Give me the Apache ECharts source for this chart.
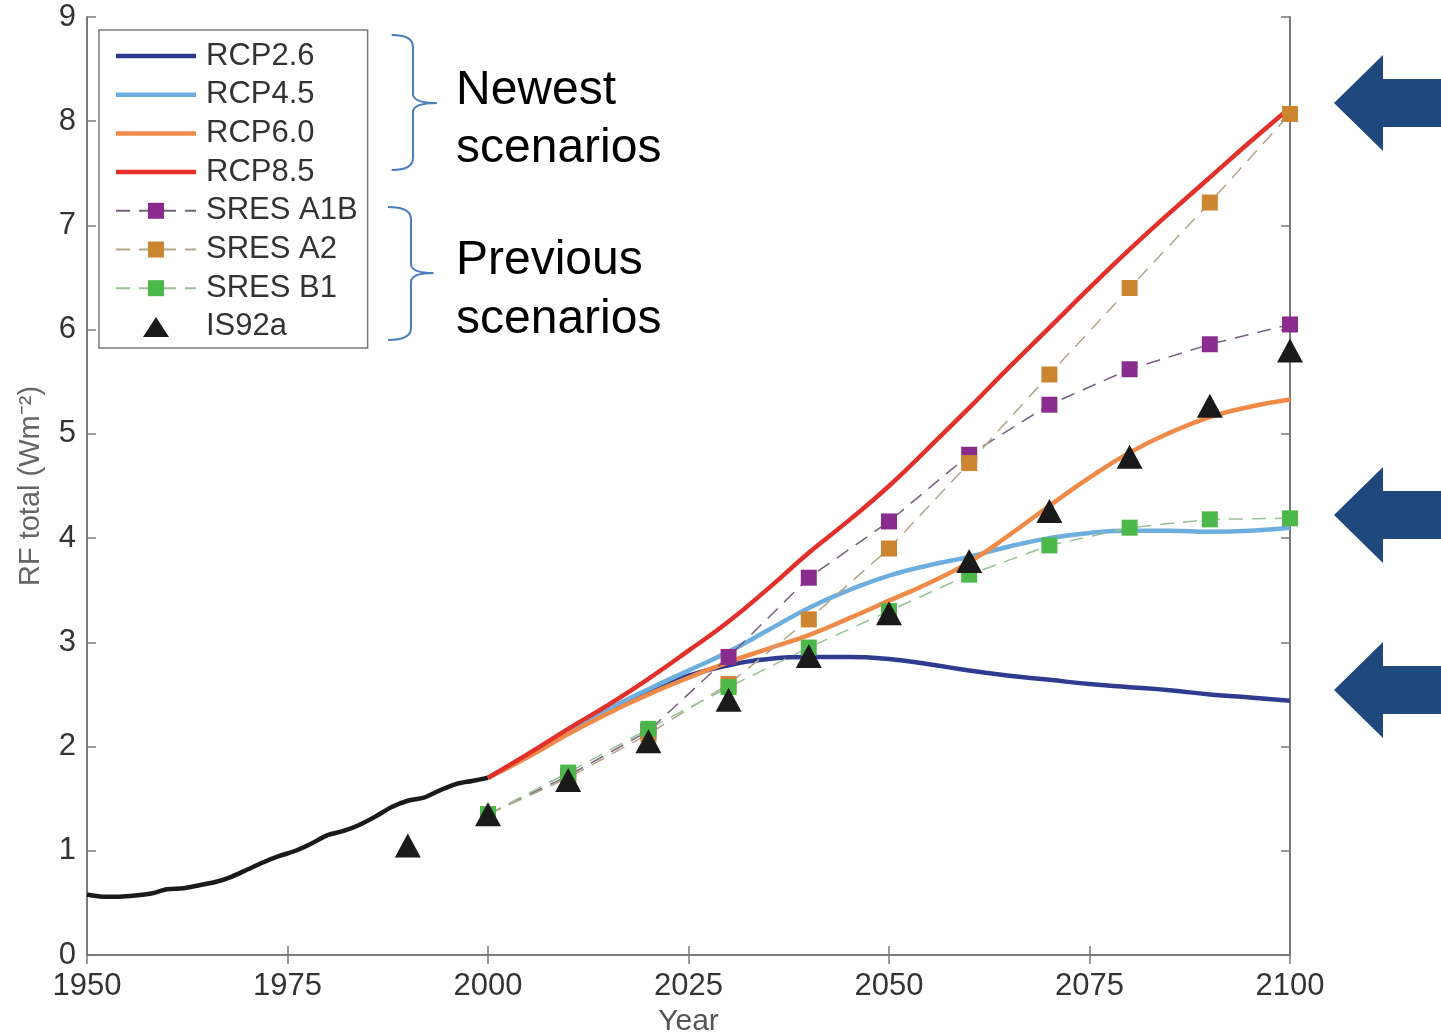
<!DOCTYPE html>
<html>
<head>
<meta charset="utf-8">
<title>RF total</title>
<script src="https://cdn.jsdelivr.net/npm/echarts@6/dist/echarts.min.js"></script>
<style>
html, body { margin: 0; padding: 0; background: #fff; }
#main { width: 1441px; height: 1033px; }
</style>
</head>
<body>
<div id="main"></div>
<script>
// observed forcing 1950-2000
var histYears = [1950, 1952, 1954, 1956, 1958, 1960, 1962, 1964, 1966, 1968, 1970, 1972, 1974,
    1976, 1978, 1980, 1982, 1984, 1986, 1988, 1990, 1992, 1994, 1996, 1998, 2000];
var histRF = [0.58, 0.56, 0.56, 0.57, 0.59, 0.63, 0.64, 0.67, 0.70, 0.75, 0.82, 0.89, 0.95,
    1.00, 1.07, 1.15, 1.19, 1.25, 1.33, 1.42, 1.48, 1.51, 1.58, 1.64, 1.67, 1.70];

// RCPs, 5-year steps
var rcpYears = [2000, 2005, 2010, 2015, 2020, 2025, 2030, 2035, 2040, 2045, 2050,
    2055, 2060, 2065, 2070, 2075, 2080, 2085, 2090, 2095, 2100];
var rcp26 = [1.70, 1.92, 2.14, 2.35, 2.53, 2.68, 2.78, 2.84, 2.86, 2.86, 2.84,
    2.79, 2.73, 2.68, 2.64, 2.60, 2.57, 2.54, 2.50, 2.47, 2.44];
var rcp45 = [1.70, 1.92, 2.15, 2.36, 2.55, 2.73, 2.91, 3.12, 3.33, 3.50, 3.64,
    3.74, 3.82, 3.92, 4.00, 4.05, 4.07, 4.07, 4.06, 4.07, 4.10];
var rcp60 = [1.70, 1.90, 2.12, 2.32, 2.50, 2.66, 2.81, 2.94, 3.07, 3.23, 3.40,
    3.57, 3.77, 4.03, 4.31, 4.58, 4.82, 5.01, 5.16, 5.26, 5.33];
var rcp85 = [1.70, 1.93, 2.17, 2.40, 2.65, 2.92, 3.20, 3.52, 3.86, 4.17, 4.50,
    4.87, 5.25, 5.64, 6.02, 6.40, 6.77, 7.12, 7.46, 7.80, 8.13];

// SRES, 10-year steps
var sresYears = [2000, 2010, 2020, 2030, 2040, 2050, 2060, 2070, 2080, 2090, 2100];
var sresA1B = [1.35, 1.72, 2.15, 2.86, 3.62, 4.16, 4.80, 5.28, 5.62, 5.86, 6.05];
var sresA2 = [1.35, 1.70, 2.12, 2.60, 3.22, 3.90, 4.72, 5.57, 6.40, 7.22, 8.07];
var sresB1 = [1.35, 1.75, 2.17, 2.57, 2.95, 3.30, 3.65, 3.93, 4.10, 4.18, 4.19];

var is92aYears = [1990, 2000, 2010, 2020, 2030, 2040, 2050, 2060, 2070, 2080, 2090, 2100];
var is92a = [1.05, 1.35, 1.68, 2.05, 2.45, 2.87, 3.28, 3.78, 4.26, 4.78, 5.27, 5.80];

var rcpNames = ['RCP2.6', 'RCP4.5', 'RCP6.0', 'RCP8.5'];
var sresNames = ['SRES A1B', 'SRES A2', 'SRES B1'];

var FONT = '"Liberation Sans", Arial, Helvetica, sans-serif';
// legend icons: plain bar for the solid lines, small triangle for IS92a
// (the extra moveTo points keep the icon box at 80x20 so nothing is stretched)
var LINE_ICON = 'path://M0,0 L80,0 L80,4.5 L0,4.5 Z';
var TRI_ICON = 'path://M0,0 M80,20 M27,20 L40,0 L53,20 Z';

function pairs(xs, ys) {
    return xs.map(function (x, i) { return [x, ys[i]]; });
}

function rcpSeries(name, ys, color) {
    return {
        name: name, type: 'line', data: pairs(rcpYears, ys),
        smooth: 0.5, symbol: 'none',
        lineStyle: { color: color, width: 4.5 }, itemStyle: { color: color }
    };
}

function sresSeries(name, ys, color, dashColor) {
    return {
        name: name, type: 'line', data: pairs(sresYears, ys),
        symbol: 'rect', symbolSize: 16, showAllSymbol: true,
        itemStyle: { color: color },
        lineStyle: { color: dashColor, width: 1.5, type: [14, 9] }
    };
}

function arrow(y) {
    return {
        type: 'polygon',
        shape: { points: [[1334, y], [1383, y - 48], [1383, y - 24], [1441, y - 24],
            [1441, y + 24], [1383, y + 24], [1383, y + 48]] },
        style: { fill: '#1F497D' }
    };
}

function note(text, x, y) {
    return {
        type: 'text', x: x, y: y,
        style: { text: text, font: '48px ' + FONT, fill: '#000', verticalAlign: 'middle' }
    };
}

// right-facing curly brace: ends at x0, spine at x1, tip at x2
function brace(x0, x1, x2, top, mid, bottom) {
    var st = { stroke: '#4A7EBB', lineWidth: 2, fill: null };
    function q(a, b, c, d, e, f) {
        return { type: 'bezierCurve', shape: { x1: a, y1: b, cpx1: c, cpy1: d, x2: e, y2: f }, style: st };
    }
    function l(a, b, c, d) {
        return { type: 'line', shape: { x1: a, y1: b, x2: c, y2: d }, style: st };
    }
    return {
        type: 'group',
        children: [
            q(x0, top, x1, top, x1, top + 12),
            l(x1, top + 12, x1, mid - 9),
            q(x1, mid - 9, x1, mid, x2, mid),
            q(x2, mid, x1, mid, x1, mid + 9),
            l(x1, mid + 9, x1, bottom - 12),
            q(x1, bottom - 12, x1, bottom, x0, bottom)
        ]
    };
}

var axisLine = { show: true, lineStyle: { color: '#7a7a7a', width: 2 } };
var axisTick = { show: true, inside: true, length: 9, lineStyle: { color: '#7a7a7a', width: 1.5 } };

var legendData = rcpNames.map(function (n) { return { name: n, icon: LINE_ICON }; })
    .concat(sresNames.map(function (n) { return { name: n }; }))
    .concat([{ name: 'IS92a', icon: TRI_ICON }]);

var chart = echarts.init(document.getElementById('main'));

chart.setOption({
    animation: false,
    backgroundColor: '#fff',
    grid: { left: 87, right: 151, top: 17, bottom: 78, containLabel: false, outerBoundsMode: 'none' },
    legend: {
        data: legendData,
        orient: 'vertical',
        left: 99, top: 30,
        padding: [10, 10, 5, 16],
        backgroundColor: '#fff',
        borderColor: '#7a7a7a', borderWidth: 1.5,
        itemWidth: 80, itemHeight: 20, itemGap: 6.7,
        symbolKeepAspect: true,
        selectedMode: false,
        textStyle: { fontFamily: FONT, fontSize: 31, color: '#333', lineHeight: 32, padding: [0, 0, 0, 5] }
    },
    xAxis: [{
        type: 'value', min: 1950, max: 2100, interval: 25, position: 'bottom',
        axisLine: axisLine, axisTick: axisTick, splitLine: { show: false },
        axisLabel: { fontFamily: FONT, fontSize: 31, color: '#333', margin: 16,
            formatter: function (v) { return String(v); } },
        name: 'Year', nameLocation: 'middle', nameGap: 50,
        nameTextStyle: { fontFamily: FONT, fontSize: 30, color: '#555' }
    }, {
        type: 'value', min: 1950, max: 2100, interval: 25, position: 'top',
        axisLine: axisLine, axisTick: axisTick, splitLine: { show: false },
        axisLabel: { show: false }
    }],
    yAxis: [{
        type: 'value', min: 0, max: 9, interval: 1, position: 'left',
        axisLine: axisLine, axisTick: axisTick, splitLine: { show: false },
        axisLabel: { fontFamily: FONT, fontSize: 31, color: '#333', margin: 11 },
        name: 'RF total (Wm\u207B\u00B2)', nameLocation: 'middle', nameGap: 42,
        nameTextStyle: { fontFamily: FONT, fontSize: 29, color: '#666' }
    }, {
        type: 'value', min: 0, max: 9, interval: 1, position: 'right',
        axisLine: axisLine, axisTick: axisTick, splitLine: { show: false },
        axisLabel: { show: false }
    }],
    series: [
        {
            name: 'hist', type: 'line', data: pairs(histYears, histRF),
            smooth: 0.3, symbol: 'none',
            lineStyle: { color: '#1a1a1a', width: 4.5 }, itemStyle: { color: '#1a1a1a' }
        },
        rcpSeries('RCP2.6', rcp26, '#2E3C8F'),
        rcpSeries('RCP4.5', rcp45, '#6EAEDF'),
        rcpSeries('RCP6.0', rcp60, '#F08A48'),
        rcpSeries('RCP8.5', rcp85, '#E2302B'),
        sresSeries('SRES A1B', sresA1B, '#8A2B8E', '#76607f'),
        sresSeries('SRES A2', sresA2, '#CC8530', '#b3a58c'),
        sresSeries('SRES B1', sresB1, '#4CB84A', '#98bf98'),
        {
            name: 'IS92a', type: 'scatter', data: pairs(is92aYears, is92a), z: 5,
            symbol: 'triangle', symbolSize: [26, 24],
            itemStyle: { color: '#1a1a1a', opacity: 1 }
        }
    ],
    graphic: {
        elements: [
            brace(391.7, 413, 436.7, 35, 103, 170),
            brace(388, 411, 433.3, 207, 273, 340),
            note('Newest', 456, 91),
            note('scenarios', 456, 149),
            note('Previous', 456, 261),
            note('scenarios', 456, 320),
            arrow(103),
            arrow(515),
            arrow(690)
        ]
    }
});
</script>
</body>
</html>
